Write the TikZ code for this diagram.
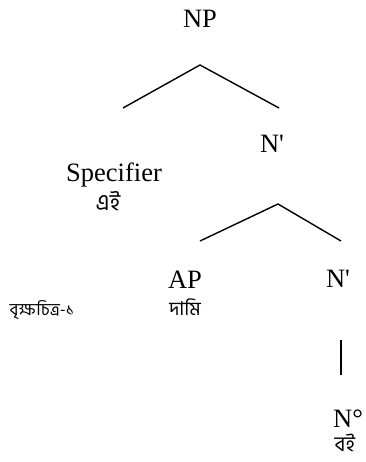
\documentclass[tikz,border=0pt]{standalone}
\usepackage{fontspec}
\setmainfont{Liberation Serif}
\newfontfamily\bngfont[Script=Bengali]{Hind Siliguri}
\begin{document}
\begin{tikzpicture}[x=1pt,y=-1pt,
  lab/.style={inner sep=0pt,anchor=base,font=\fontsize{26.5}{30}\selectfont},
  bn/.style={inner sep=0pt,anchor=center,font=\bngfont\fontsize{19}{22}\selectfont},
  edge/.style={line width=1.4pt}]
\useasboundingbox (0,0) rectangle (365,462);
\node[lab] (np) at (200,28) {NP};
\coordinate (a1) at (200,65);
\coordinate (l1) at (123,108);
\coordinate (r1) at (279,108);
\draw[edge] (l1) -- (a1) -- (r1);
\node[lab] (spec) at (114,182) {Specifier};
\node[bn,font=\bngfont\fontsize{23}{26}\selectfont] (ei) at (108,201) {এই};
\node[lab] (nb1) at (272,153) {N\textquotesingle};
\coordinate (a2) at (278,204);
\coordinate (l2) at (200,241);
\coordinate (r2) at (341,241);
\draw[edge] (l2) -- (a2) -- (r2);
\node[lab] (ap) at (185,288) {AP};
\node[bn] (dami) at (185,307) {দামি};
\node[lab] (nb2) at (338,287) {N\textquotesingle};
\node[bn,font=\bngfont\fontsize{17}{20}\selectfont] (cap) at (42,310) {বৃক্ষচিত্র-১};
\coordinate (v1) at (341,340);
\coordinate (v2) at (341,375);
\draw[edge] (v1) -- (v2);
\node[lab] (n0) at (348,427) {N°};
\node[bn,font=\bngfont\fontsize{21}{24}\selectfont] (boi) at (345,443) {বই};
\end{tikzpicture}
\end{document}
